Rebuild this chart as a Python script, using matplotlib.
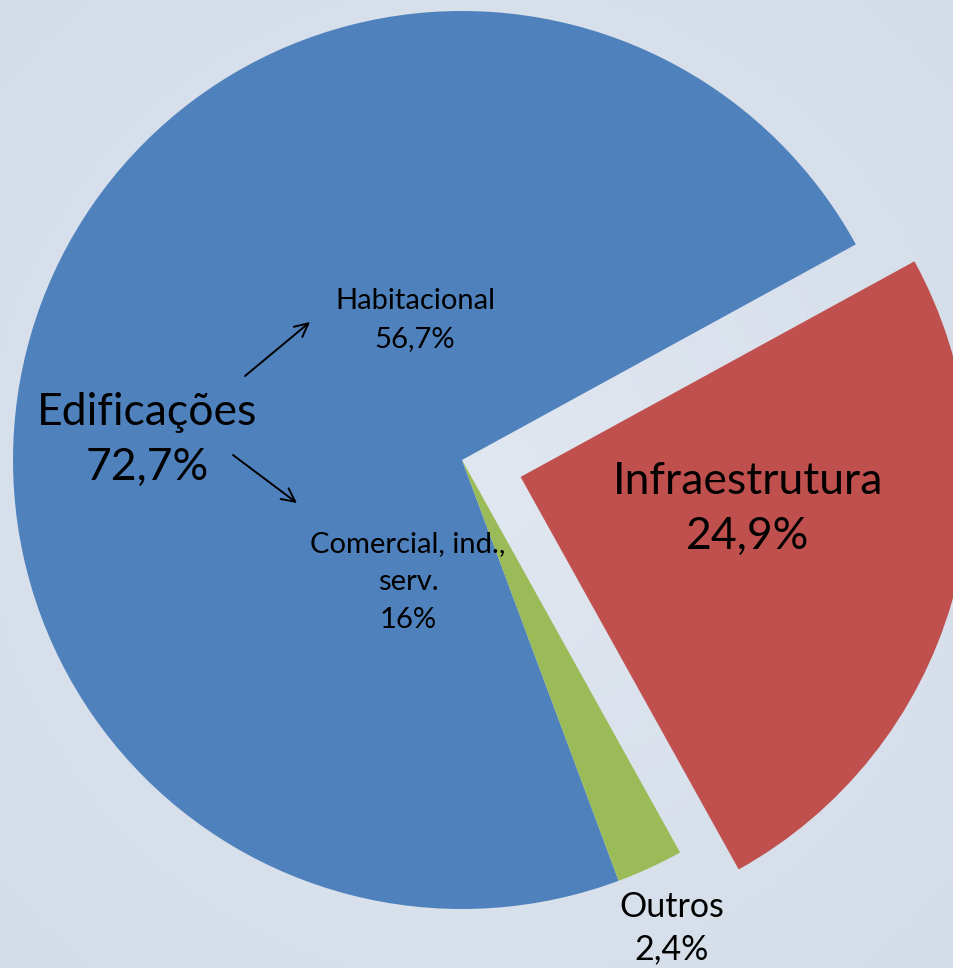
import numpy as np
import matplotlib
matplotlib.use("Agg")
import matplotlib.pyplot as plt

plt.rcParams['font.family'] = ['Lato', 'DejaVu Sans']

# data
labels = ['Edificações', 'Outros', 'Infraestrutura']
shares = [72.7, 2.4, 24.9]
colors = ['#4f81bd', '#9bbb59', '#c0504d']
explode = [0, 0, 61]
sub_labels = ['Habitacional', 'Comercial, ind.,\nserv.']
sub_shares = [56.7, 16]

W, H = 954, 968
fig = plt.figure(figsize=(W / 100, H / 100), dpi=100)
ax = fig.add_axes([0, 0, 1, 1])

# soft background gradient, lighter in the middle
yy, xx = np.mgrid[0:1:200j, 0:1:200j]
rr = np.sqrt((xx - 0.5) ** 2 + (yy - 0.5) ** 2) / 0.707
c_in = np.array([0.882, 0.906, 0.941])
c_out = np.array([0.827, 0.863, 0.914])
bg = c_in[None, None, :] * (1 - rr[..., None]) + c_out[None, None, :] * rr[..., None]
ax.imshow(bg, extent=(0, W, 0, H), aspect='auto', zorder=0)

cx, cy, rad = 462, H - 460, 449
wedges, _ = ax.pie(shares, colors=colors, explode=explode, startangle=28.7,
                   radius=rad, center=(cx, cy), frame=True,
                   wedgeprops=dict(linewidth=0))
for w in wedges:
    w.set_zorder(1)

def fmt(v):
    s = ('%.1f' % v).replace('.', ',')
    return s[:-2] if s.endswith(',0') else s

big = 32
ax.text(147, H - 440, '%s\n%s%%' % (labels[0], fmt(shares[0])), ha='center', va='center',
        fontsize=big, linespacing=1.45, zorder=3)
ax.text(748, H - 509, '%s\n%s%%' % (labels[2], fmt(shares[2])), ha='center', va='center',
        fontsize=big, linespacing=1.45, zorder=3)
ax.text(672, H - 928, '%s\n%s%%' % (labels[1], fmt(shares[1])), ha='center', va='center',
        fontsize=24.5, linespacing=1.4, zorder=3)
ax.text(415, H - 320, '%s\n%s%%' % (sub_labels[0], fmt(sub_shares[0])), ha='center', va='center',
        fontsize=21, linespacing=1.55, zorder=3)
ax.text(408, H - 582, '%s\n%s%%' % (sub_labels[1], fmt(sub_shares[1])), ha='center', va='center',
        fontsize=21, linespacing=1.55, zorder=3)

arrow = dict(arrowstyle='->', lw=1.4, color='black', mutation_scale=24, shrinkA=0, shrinkB=0)
ax.annotate('', xy=(310, H - 322), xytext=(245, H - 376), arrowprops=arrow, zorder=3)
ax.annotate('', xy=(297, H - 503), xytext=(233, H - 455), arrowprops=arrow, zorder=3)

ax.set_xlim(0, W)
ax.set_ylim(0, H)
ax.set_aspect('auto')
ax.axis('off')

fig.savefig('out.png', dpi=100)
